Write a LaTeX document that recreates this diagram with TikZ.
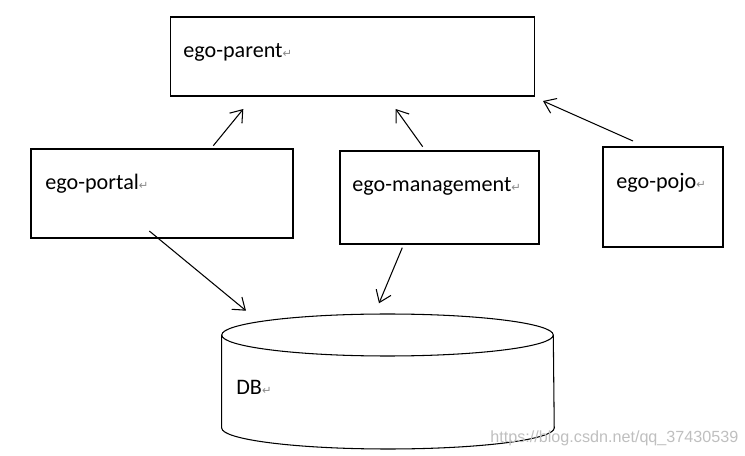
\documentclass[tikz,border=0pt]{standalone}
\usepackage{fontspec}
\setmainfont{Carlito}
\newfontfamily\symfont{DejaVu Sans}
\newfontfamily\wmfont{Liberation Sans}
\usetikzlibrary{arrows.meta,positioning,calc}
\newcommand{\retmark}{{\color{black!45}\fontsize{6.5}{7}\symfont ↵}}
\tikzset{
  box/.style={draw=black,line width=0.6pt,inner sep=0pt},
  txt/.style={anchor=base west,inner sep=0pt,font=\fontsize{12.6}{15}\selectfont},
  arrow/.style={-{Straight Barb[length=2.2mm,width=3.2mm]},draw=black,line width=0.6pt},
  wmark/.style={anchor=base west,inner sep=0pt,text=black!25,font=\wmfont\fontsize{9.2}{11}\selectfont}
}
\begin{document}
\begin{tikzpicture}[x=0.02cm,y=-0.02cm]
  \useasboundingbox (0,0) rectangle (745,456);
  % boxes
  \node[box,minimum width=7.3cm,minimum height=1.58cm] (parent) at (352.5,56.5) {};
  \node[box,minimum width=5.24cm,minimum height=1.78cm] (portal) at (162,193.5) {};
  \node[box,minimum width=3.98cm,minimum height=1.86cm] (management) at (439.5,197.5) {};
  \node[box,minimum width=2.4cm,minimum height=2.0cm] (pojo) at (663,197) {};
  % labels
  \node[txt] (parentlbl) at (183,57.5) {ego-parent\retmark};
  \node[txt] (portallbl) at (45,189.3) {ego-portal\retmark};
  \node[txt] (managementlbl) at (352,191.5) {ego-management\retmark};
  \node[txt] (pojolbl) at (616,188.3) {ego-pojo\retmark};
  % database
  \coordinate (db) at (387.5,335);
  \draw[line width=0.6pt] (221.7,335) -- (221.7,428)
    arc[start angle=180,end angle=360,x radius=3.326cm,y radius=0.42cm] -- (553.3,335);
  \draw[line width=0.6pt] (db) ellipse[x radius=3.316cm,y radius=0.42cm];
  \node[txt] (dblbl) at (236,394.3) {DB\retmark};
  % arrow ends
  \coordinate (a1) at (213.3,145.7);
  \coordinate (b1) at (243.3,109);
  \coordinate (a2) at (422.7,146.7);
  \coordinate (b2) at (395.7,109);
  \coordinate (a3) at (633,141);
  \coordinate (b3) at (543,101);
  \coordinate (a4) at (149.3,231);
  \coordinate (b4) at (246,310.7);
  \coordinate (a5) at (402.3,247.7);
  \coordinate (b5) at (379,303.3);
  \draw[arrow] (a1) -- (b1);
  \draw[arrow] (a2) -- (b2);
  \draw[arrow] (a3) -- (b3);
  \draw[arrow] (a4) -- (b4);
  \draw[arrow] (a5) -- (b5);
  \node[wmark] (wm) at (490,442) {https://blog.csdn.net/qq\_37430539};
\end{tikzpicture}
\end{document}
